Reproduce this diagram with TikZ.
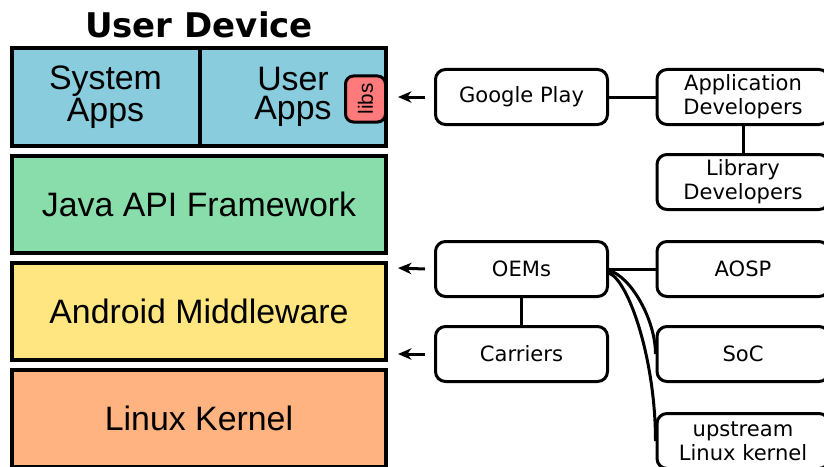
\documentclass[tikz,border=0pt]{standalone}
\usepackage{fontspec}
\setmainfont{Liberation Sans}
\newfontfamily\dejavu{DejaVu Sans}
\usetikzlibrary{arrows.meta}
\definecolor{appblue}{RGB}{137,204,222}
\definecolor{apigreen}{RGB}{136,221,170}
\definecolor{midyellow}{RGB}{255,230,128}
\definecolor{kernorange}{RGB}{255,179,128}
\definecolor{libsred}{RGB}{255,122,122}

\begin{document}
\begin{tikzpicture}[x=0.75pt,y=-0.75pt,
  layer/.style={draw,line width=3pt,inner sep=0pt,minimum width=280.5pt,minimum height=72.75pt,align=center,font=\fontsize{25.4pt}{21.75pt}\selectfont},
  party/.style={draw,line width=2.25pt,rounded corners=7.5pt,minimum width=129pt,minimum height=41.25pt,inner sep=0pt,align=center,font=\dejavu\fontsize{15.8pt}{18pt}\selectfont},
  link/.style={line width=2.25pt},
  feed/.style={line width=2.25pt,-{Stealth[length=10pt,width=8.5pt,inset=3pt]}}]
\useasboundingbox (0,0) rectangle (824,467);

% user device stack
\node[font=\dejavu\bfseries\fontsize{25.5pt}{27pt}\selectfont] (title) at (199,25) {User Device};
\node[layer,fill=appblue,minimum width=141pt] (sysapps) at (105.5,97) {System\\Apps};
\node[layer,fill=appblue,minimum width=139.5pt] (userapps) at (293,97) {User\\Apps};
\node[draw,fill=libsred,line width=2.25pt,rounded corners=6pt,inner sep=0pt,rotate=90,
  minimum width=34.5pt,minimum height=30pt,font=\fontsize{15.5pt}{16pt}\selectfont] (libs) at (365.5,99) {libs};
\node[layer,fill=apigreen] (api) at (199,204) {Java API Framework};
\node[layer,fill=midyellow] (middle) at (199,311) {Android Middleware};
\node[layer,fill=kernorange] (kernel) at (199,418) {Linux Kernel};

% parties
\node[party] (play) at (521.5,97) {Google Play};
\node[party] (appdev) at (743,97) {Application\\Developers};
\node[party] (libdev) at (743,182) {Library\\Developers};
\node[party] (oems) at (521.5,269) {OEMs};
\node[party] (aosp) at (743,269) {AOSP};
\node[party] (carriers) at (521.5,354) {Carriers};
\node[party] (soc) at (743,354) {SoC};
\node[party] (upstream) at (743,441) {upstream\\Linux kernel};

\draw[link] (play) -- (appdev);
\draw[link] (appdev) -- (libdev);
\draw[link] (oems) -- (aosp);
\draw[link] (oems) -- (carriers);
\draw[link] ([yshift=-1.1pt]oems.east) .. controls +(22,6) and +(0,-34) .. (soc.west);
\draw[link] ([yshift=-3pt]oems.east) .. controls +(20,8) and +(0,-81) .. (upstream.west);

% arrows into the stack
\coordinate (playin) at (398,97);
\coordinate (oemsin) at (398,268);
\coordinate (carrin) at (398,354);
\draw[feed] ([xshift=-6.75pt]play.west) -- (playin);
\draw[feed] ([xshift=-6.75pt]oems.west) -- (oemsin);
\draw[feed] ([xshift=-6.75pt]carriers.west) -- (carrin);
\end{tikzpicture}
\end{document}
